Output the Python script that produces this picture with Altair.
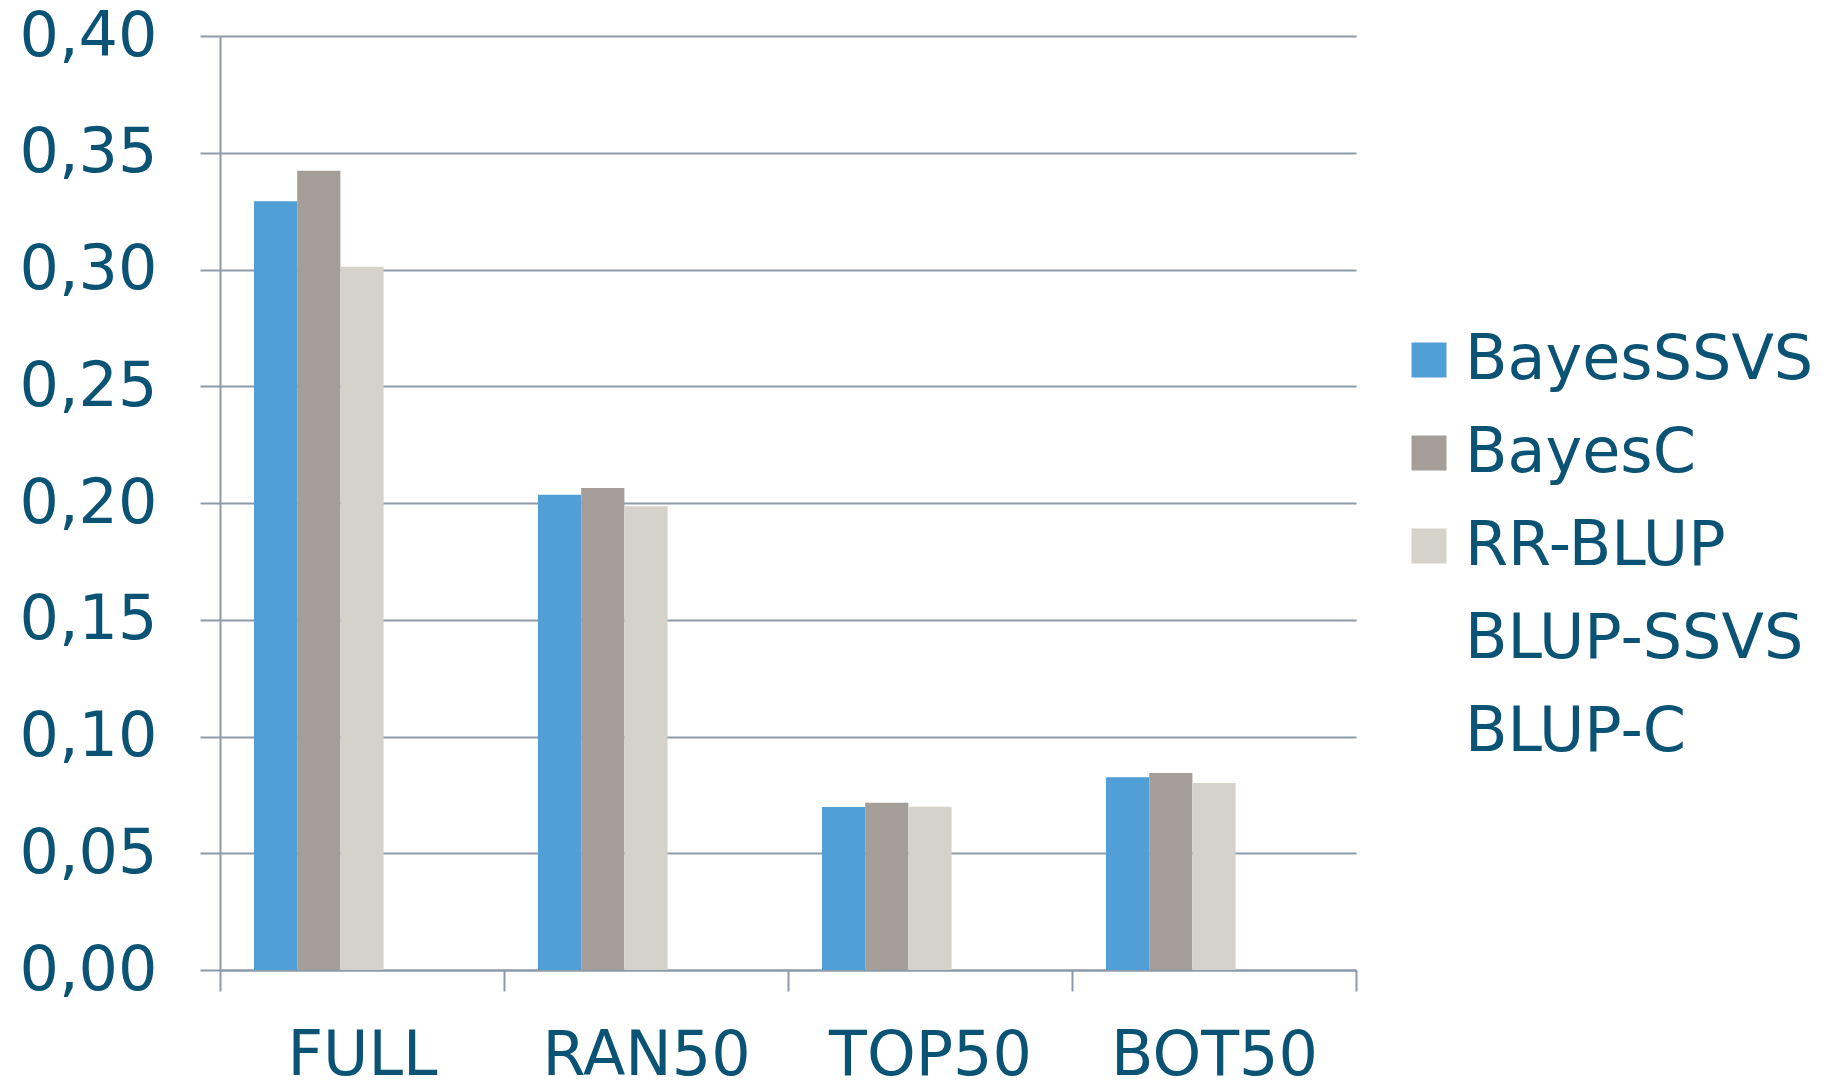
import altair as alt
import pandas as pd

categories = ["FULL", "RAN50", "TOP50", "BOT50"]
series = ["BayesSSVS", "BayesC", "RR-BLUP", "BLUP-SSVS", "BLUP-C"]
bayes_ssvs = [0.3292, 0.2035, 0.0698, 0.0826]
bayes_c = [0.3423, 0.2064, 0.0716, 0.0844]
rr_blup = [0.3012, 0.1986, 0.0699, 0.0801]
colors = ["#519FD7", "#A59D97", "#D5D2CA", "#FFFFFF", "#FFFFFF"]
y_ticks = [0.0, 0.05, 0.10, 0.15, 0.20, 0.25, 0.30, 0.35, 0.40]

rows = []
for name, vals in zip(series[:3], [bayes_ssvs, bayes_c, rr_blup]):
    for c, v in zip(categories, vals):
        rows.append({"cat": c, "series": name, "value": v})
df = pd.DataFrame(rows)

TEXT = "#0B5374"
GRID = "#8C9AAA"
FONT = "DejaVu Sans"

chart = alt.Chart(df).mark_bar().encode(
    x=alt.X(
        "cat:N",
        sort=categories,
        scale=alt.Scale(domain=categories, paddingInner=0, paddingOuter=0),
        axis=alt.Axis(
            title=None, labelAngle=0, tickBand="extent", grid=False,
            tickSize=21, tickWidth=2, tickColor=GRID,
            domainColor=GRID, domainWidth=2,
            labelPadding=34, labelBaseline="top", labelFontSize=62,
            labelFont=FONT, labelColor=TEXT, labelLimit=600,
        ),
    ),
    xOffset=alt.XOffset(
        "series:N",
        sort=series,
        scale=alt.Scale(domain=series, paddingInner=0, paddingOuter=0.787),
    ),
    y=alt.Y(
        "value:Q",
        scale=alt.Scale(domain=[0, 0.4], nice=False, zero=True),
        axis=alt.Axis(
            title=None, values=y_ticks,
            labelExpr="replace(format(datum.value, '.2f'), '.', ',')",
            tickSize=20, tickWidth=2, tickColor=GRID,
            domainColor=GRID, domainWidth=2,
            gridColor=GRID, gridWidth=2,
            labelPadding=43, labelFontSize=62, labelFont=FONT,
            labelColor=TEXT,
        ),
    ),
    color=alt.Color(
        "series:N",
        scale=alt.Scale(domain=series, range=colors),
        legend=alt.Legend(
            title=None, orient="none", legendX=1178, legendY=293,
            symbolType="square", symbolSize=1225, symbolStrokeWidth=0,
            labelFontSize=62, labelFont=FONT, labelColor=TEXT,
            labelOffset=5, rowPadding=31, labelLimit=600, padding=0,
        ),
    ),
).properties(
    width=1136,
    height=934,
    autosize=alt.AutoSizeParams(type="none"),
    padding={"left": 212, "top": 28, "right": 471, "bottom": 109},
).configure_view(stroke=None)

chart.save("out.html", embed_options={"renderer": "svg", "actions": False})
